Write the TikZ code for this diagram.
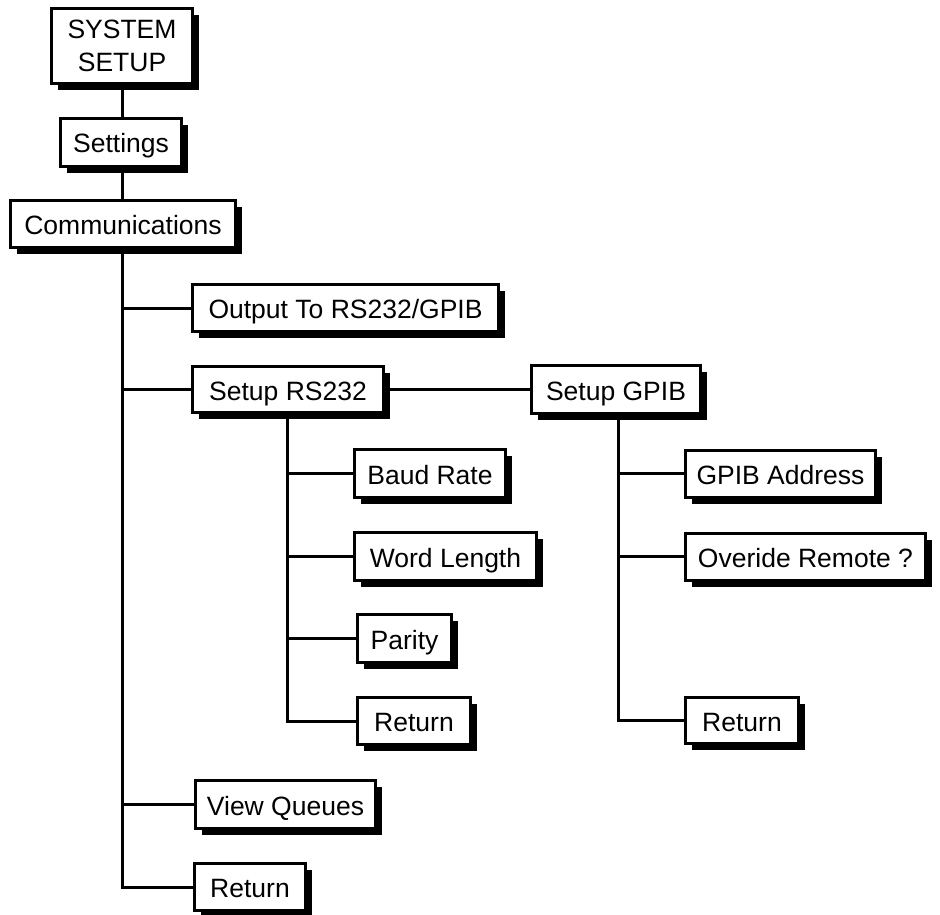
\documentclass[tikz,border=0pt]{standalone}
\usepackage{fontspec}
\setmainfont{Liberation Sans}
\usetikzlibrary{shadows}
\begin{document}
\begin{tikzpicture}[x=1pt,y=-1pt,
  box/.style={draw=black, fill=white, line width=3pt, inner sep=0pt,
    font=\fontsize{26.5}{33}\selectfont, text height=21pt, text depth=0pt,
    general shadow={fill=black, shadow xshift=6.5pt, shadow yshift=-6.5pt}},
  bigbox/.style={draw=black, fill=white, line width=3pt, inner sep=0pt,
    font=\fontsize{26.5}{33}\selectfont, align=center,
    general shadow={fill=black, shadow xshift=6.5pt, shadow yshift=-6.5pt}},
  wire/.style={line width=3pt}]
\useasboundingbox (0,0) rectangle (940,915);
% nodes
\node[bigbox, minimum width=141pt, minimum height=75pt] (sys) at (122,46) {SYSTEM\\[0pt]SETUP};
\node[box, minimum width=121pt, minimum height=48pt] (set) at (121,142.5) {Settings};
\node[box, minimum width=225pt, minimum height=47pt] (comm) at (123,224) {Communications};
\node[box, minimum width=306pt, minimum height=47pt] (out) at (345.5,308) {Output To RS232/GPIB};
\node[box, minimum width=191pt, minimum height=46pt] (rs) at (288,389.5) {Setup RS232};
\node[box, minimum width=169pt, minimum height=48pt] (gpib) at (616,389.5) {Setup GPIB};
\node[box, minimum width=151pt, minimum height=48pt] (baud) at (430,473.5) {Baud Rate};
\node[box, minimum width=182pt, minimum height=48pt] (word) at (445.5,556.5) {Word Length};
\node[box, minimum width=94pt, minimum height=48pt] (par) at (404.5,638.5) {Parity};
\node[box, minimum width=113pt, minimum height=47pt] (reta) at (414,721) {Return};
\node[box, minimum width=190pt, minimum height=47pt] (addr) at (780.5,473.5) {GPIB Address};
\node[box, minimum width=240pt, minimum height=47pt] (ovr) at (805.5,556.5) {Overide Remote ?};
\node[box, minimum width=113pt, minimum height=46pt] (retb) at (742,720.5) {Return};
\node[box, minimum width=180pt, minimum height=48pt] (view) at (285.5,804.5) {View Queues};
\node[box, minimum width=111pt, minimum height=47pt] (retc) at (250,887) {Return};
% connectors
\draw[wire] (sys.south -| 122,0) -- (set.north -| 122,0);
\draw[wire] (set.south -| 122,0) -- (comm.north -| 122,0);
\coordinate (mt) at (122,250);
\draw[wire] (mt) |- (retc.west);
\draw[wire] (mt |- out.west) -- (out.west);
\draw[wire] (mt |- rs.west) -- (rs.west);
\draw[wire] (mt |- view.west) -- (view.west);
\draw[wire] (rs.east) -- (gpib.west);
\coordinate (rt) at (287,416);
\draw[wire] (rt) |- (reta.west);
\draw[wire] (rt |- baud.west) -- (baud.west);
\draw[wire] (rt |- word.west) -- (word.west);
\draw[wire] (rt |- par.west) -- (par.west);
\coordinate (gt) at (618,416);
\draw[wire] (gt) |- (retb.west);
\draw[wire] (gt |- addr.west) -- (addr.west);
\draw[wire] (gt |- ovr.west) -- (ovr.west);
\end{tikzpicture}
\end{document}
